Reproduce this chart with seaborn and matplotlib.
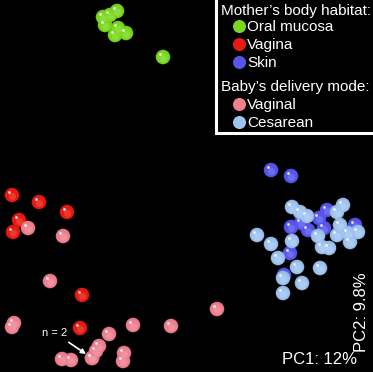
import matplotlib
matplotlib.use("Agg")
import pandas as pd
import matplotlib.pyplot as plt
import seaborn as sns
from matplotlib.lines import Line2D
from matplotlib.patches import Rectangle
from matplotlib.transforms import offset_copy

# PC scores (picture units, PC2 grows downward)
oral_x = [103, 110, 117, 105, 118, 126, 115, 163]
oral_y = [17, 15, 11, 25, 28, 33, 35, 57]

vagina_x = [12, 39, 67, 19, 13, 82, 80]
vagina_y = [195, 202, 212, 220, 232, 295, 328]

skin_x = [271, 291, 327, 319, 291, 301, 308, 324, 355, 290, 284]
skin_y = [170, 176, 210, 218, 227, 223, 230, 228, 225, 253, 275]

vaginal_x = [28, 63, 50, 12, 14, 133, 171, 217, 109, 99, 96, 92, 92, 62, 71, 124, 123]
vaginal_y = [228, 236, 281, 327, 323, 325, 326, 309, 334, 346, 351, 358, 358, 359, 360, 353, 361]

cesarean_x = [292, 300, 307, 343, 337, 257, 271, 292, 318, 340, 337, 348, 358, 350,
              322, 329, 278, 297, 320, 283, 302, 283]
cesarean_y = [207, 212, 216, 205, 212, 235, 244, 241, 236, 225, 235, 233, 232, 242,
              247, 248, 258, 267, 268, 278, 283, 293]

mother_groups = ["Oral mucosa", "Vagina", "Skin"]
baby_groups = ["Vaginal", "Cesarean"]
palette = {
    "Oral mucosa": "#7ad81e",
    "Vagina": "#e81a12",
    "Skin": "#5656ee",
    "Vaginal": "#f0808f",
    "Cesarean": "#9fc4f0",
}

W, H = 373, 372


def frame(name, xs, ys):
    return pd.DataFrame({"pc1": xs, "pc2": ys, "group": name})


def lighter(color, f):
    r, g, b = matplotlib.colors.to_rgb(color)
    return (r + (1 - r) * f, g + (1 - g) * f, b + (1 - b) * f)


def darker(color, f):
    r, g, b = matplotlib.colors.to_rgb(color)
    return (r * f, g * f, b * f)


def fx(px):
    return px / W


def fy(py):
    return 1 - py / H


df = pd.concat([
    frame("Oral mucosa", oral_x, oral_y),
    frame("Vagina", vagina_x, vagina_y),
    frame("Skin", skin_x, skin_y),
    frame("Vaginal", vaginal_x, vaginal_y),
    frame("Cesarean", cesarean_x, cesarean_y),
], ignore_index=True)

plt.rcParams["font.family"] = ["Liberation Sans", "DejaVu Sans"]

fig = plt.figure(figsize=(W / 100, H / 100), dpi=100, facecolor="black")
ax = fig.add_axes([0, 0, 1, 1])
ax.set_facecolor("black")

# -----------------------------
# glossy spheres: rim, body, highlight
# -----------------------------
for name in mother_groups + baby_groups:
    sub = df[df["group"] == name]
    col = palette[name]
    sns.scatterplot(data=sub, x="pc1", y="pc2", color=darker(col, 0.93), s=110,
                    edgecolor="none", legend=False, ax=ax)
    ax.scatter(sub["pc1"], sub["pc2"], color=col, s=75, edgecolor="none",
               transform=offset_copy(ax.transData, fig, x=0, y=-0.5, units="dots"))
    ax.scatter(sub["pc1"], sub["pc2"], color=lighter(col, 0.2), s=25, edgecolor="none",
               alpha=0.7, transform=offset_copy(ax.transData, fig, x=0.5, y=-1.5, units="dots"))
    ax.scatter(sub["pc1"], sub["pc2"], color="white", s=4, edgecolor="none", alpha=0.85,
               transform=offset_copy(ax.transData, fig, x=-2.5, y=2.5, units="dots"))

ax.set_xlim(0, W)
ax.set_ylim(H, 0)
ax.axis("off")

# -----------------------------
# axis labels and annotation
# -----------------------------
ax.text(fx(357), fy(360), "PC1: 12%", color="white", fontsize=12,
        ha="right", va="center", transform=ax.transAxes)
ax.text(fx(361), fy(352), "PC2: 9.8%", color="white", fontsize=12, rotation=90,
        ha="center", va="bottom", transform=ax.transAxes)
ax.annotate("n = 2", xy=(fx(86), fy(354)), xytext=(fx(55), fy(333)),
            xycoords="axes fraction", textcoords="axes fraction",
            color="white", fontsize=8, ha="center", va="center",
            arrowprops=dict(arrowstyle="-|>", color="white", lw=1.2,
                            mutation_scale=7, shrinkA=2, shrinkB=0))

# -----------------------------
# legend box
# -----------------------------
ax.add_patch(Rectangle((fx(216), fy(133)), 0.5, 0.5, transform=ax.transAxes,
                       facecolor="black", edgecolor="white", lw=2.2,
                       clip_on=False, zorder=5))


def handles(names):
    return [Line2D([], [], marker="o", linestyle="", markersize=9.4,
                   markerfacecolor=palette[n], markeredgecolor="none") for n in names]


legend_kw = dict(loc="center left", frameon=False, fontsize=11, labelcolor="white",
                 handlelength=1.0, handletextpad=0.05, borderpad=0, borderaxespad=0,
                 labelspacing=0.27, bbox_transform=ax.transAxes)

leg1 = ax.legend(handles(mother_groups), mother_groups,
                 bbox_to_anchor=(fx(231), fy(45)), **legend_kw)
leg1.set_zorder(6)
ax.add_artist(leg1)
leg2 = ax.legend(handles(baby_groups), baby_groups,
                 bbox_to_anchor=(fx(231), fy(114)), **legend_kw)
leg2.set_zorder(6)

ax.text(fx(221), fy(11), "Mother’s body habitat:", color="white", fontsize=11,
        ha="left", va="center", transform=ax.transAxes, zorder=7)
ax.text(fx(221), fy(87), "Baby’s delivery mode:", color="white", fontsize=11,
        ha="left", va="center", transform=ax.transAxes, zorder=7)

fig.savefig("out.png", dpi=100, facecolor="black")
plt.close(fig)
